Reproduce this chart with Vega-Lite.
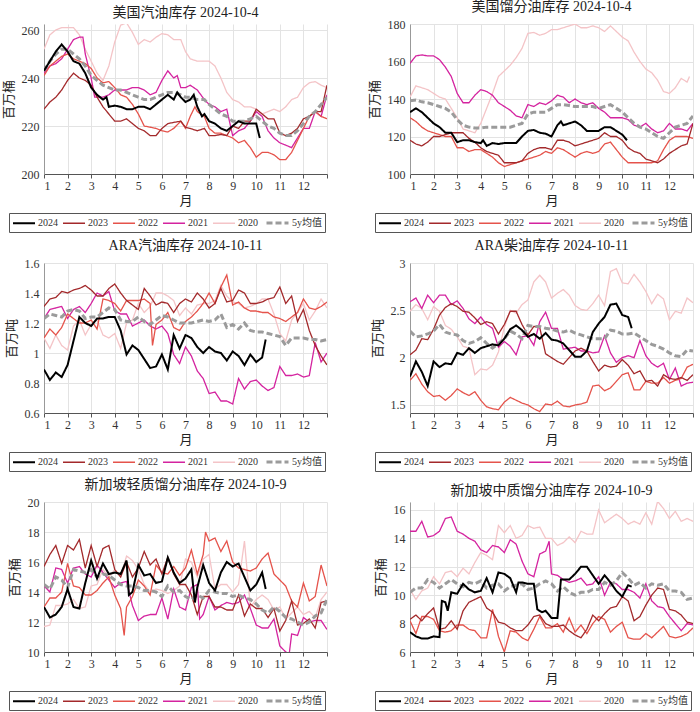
{
"$schema": "https://vega.github.io/schema/vega-lite/v6.json",
"padding": {"left": 2, "top": 0, "right": 4, "bottom": 2},
"columns": 2,
"spacing": {"row": 6, "column": 40},
"resolve": {"scale": {"color": "independent", "strokeDash": "independent", "strokeWidth": "independent"}, "legend": {"color": "independent", "strokeDash": "independent", "strokeWidth": "independent"}},
"datasets": {
"p1": [
{"x":1,"2024":243,"2023":227,"2022":241,"2021":242,"2020":252,"5y均值":243},
{"x":1.25,"2024":247,"2023":230,"2022":245,"2021":245,"2020":258,"5y均值":247},
{"x":1.5,"2024":251,"2023":232,"2022":247,"2021":246,"2020":260,"5y均值":250},
{"x":1.75,"2024":254,"2023":235,"2022":249,"2021":248,"2020":261,"5y均值":252},
{"x":2,"2024":251,"2023":239,"2022":250,"2021":252,"2020":261,"5y均值":252},
{"x":2.25,"2024":247,"2023":242,"2022":248,"2021":256,"2020":261,"5y均值":250},
{"x":2.5,"2024":246,"2023":240,"2022":247,"2021":257,"2020":258,"5y均值":248},
{"x":2.65,"2021":257},
{"x":2.75,"2024":242,"2023":239,"2022":246,"2021":250,"2020":252,"5y均值":245},
{"x":3,"2024":236,"2023":237,"2022":244,"2021":240,"2020":247,"5y均值":241},
{"x":3.15,"2021":232},
{"x":3.25,"2024":233,"2023":232,"2022":240,"2020":242,"5y均值":239},
{"x":3.5,"2024":231,"2023":228,"2022":238,"2021":232,"2020":239,"5y均值":237},
{"x":3.65,"2024":232},
{"x":3.75,"2024":228,"2023":225,"2022":238.5,"2021":233,"2020":245,"5y均值":236},
{"x":4,"2024":228.5,"2023":222,"2022":236,"2021":235,"2020":255,"5y均值":235},
{"x":4.25,"2024":228,"2023":222,"2022":233,"2021":235,"2020":262,"5y均值":235},
{"x":4.5,"2024":227,"2023":223,"2022":232,"2021":235,"2020":263,"5y均值":234},
{"x":4.75,"2024":227,"2023":221,"2022":229,"2021":236,"2020":259,"5y均值":233},
{"x":5,"2024":228,"2023":219,"2022":225,"2021":236,"2020":254,"5y均值":232},
{"x":5.25,"2024":228,"2023":218,"2022":220,"2021":235,"2020":256,"5y均值":231},
{"x":5.5,"2024":227,"2023":216,"2022":219.5,"2021":233,"2020":255,"5y均值":231},
{"x":5.75,"2024":229,"2023":216,"2022":219,"2021":234,"2020":257,"5y均值":232},
{"x":6,"2024":231,"2023":219,"2022":218,"2021":239,"2020":258.5,"5y均值":233},
{"x":6.25,"2024":233,"2023":221,"2022":217.5,"2021":243,"2020":258,"5y均值":234},
{"x":6.5,"2024":231,"2023":221.5,"2022":219,"2021":240,"2020":256,"5y均值":234},
{"x":6.65,"2024":234,"2021":241},
{"x":6.8,"2024":232,"2023":222,"2022":222,"2021":236,"2020":256,"5y均值":233},
{"x":7,"2024":230,"2023":219.5,"2022":219,"2021":236,"2020":251,"5y均值":232},
{"x":7.2,"2024":231,"2023":219,"2022":224,"2021":237,"2020":248,"5y均值":232},
{"x":7.35,"2024":233},
{"x":7.4,"2022":228},
{"x":7.5,"2024":228,"2023":218,"2022":226,"2021":235,"2020":247,"5y均值":231},
{"x":7.7,"2024":224},
{"x":7.8,"2024":225,"2023":219,"2022":224,"2021":231,"2020":247,"5y均值":231},
{"x":8,"2024":222,"2023":216,"2022":219,"2021":229,"2020":247,"5y均值":229},
{"x":8.25,"2024":221,"2023":216,"2022":217,"2021":228,"2020":245,"5y均值":227},
{"x":8.5,"2024":219,"2023":216.5,"2022":217,"2021":226,"2020":240,"5y均值":225},
{"x":8.75,"2024":218,"2023":216,"2022":216,"2021":227,"2020":234,"5y均值":224},
{"x":9,"2024":220,"2023":220,"2022":215,"2021":216,"2020":231,"5y均值":222},
{"x":9.25,"2024":222,"2023":219,"2022":213,"2021":218,"2020":230,"5y均值":222},
{"x":9.5,"2024":221,"2023":222,"2022":214,"2021":219,"2020":228,"5y均值":222},
{"x":9.75,"2024":221,"2023":222,"2022":211,"2021":222,"2020":228,"5y均值":223},
{"x":10,"2024":221,"2023":227,"2022":207,"2021":226,"2020":227,"5y均值":224},
{"x":10.15,"2024":215},
{"x":10.25,"2023":225,"2022":209,"2021":224,"2020":225,"5y均值":222},
{"x":10.5,"2023":223,"2022":209,"2021":218,"2020":226,"5y均值":220},
{"x":10.75,"2023":223,"2022":208,"2021":215,"2020":227,"5y均值":219},
{"x":11,"2023":217,"2022":206,"2021":213,"2020":226,"5y均值":217},
{"x":11.25,"2023":216,"2022":206,"2021":212,"2020":228,"5y均值":216},
{"x":11.5,"2023":217,"2022":209,"2021":211,"2020":231,"5y均值":216},
{"x":11.75,"2023":219,"2022":214,"2021":215,"2020":232,"5y均值":218},
{"x":12,"2023":223,"2022":219,"2021":219,"2020":236,"5y均值":221},
{"x":12.25,"2023":224,"2022":224,"2021":219,"2020":238,"5y均值":224},
{"x":12.5,"2023":226,"2022":226,"2021":226,"2020":238.5,"5y均值":226},
{"x":12.75,"2023":226,"2022":224,"2021":224,"2020":237,"5y均值":229},
{"x":13,"2023":237,"2022":223,"2021":233,"2020":236,"5y均值":232}
],
"p2": [
{"x":1,"2024":133,"2023":118,"2022":130,"2021":159,"2020":141,"5y均值":139},
{"x":1.25,"2024":135,"2023":116,"2022":128,"2021":163,"2020":147,"5y均值":139.5},
{"x":1.5,"2024":133,"2023":115,"2022":125,"2021":163.5,"2020":146,"5y均值":138.5},
{"x":1.75,"2024":130,"2023":117,"2022":123,"2021":163,"2020":145,"5y均值":138},
{"x":2,"2024":127,"2023":120,"2022":122,"2021":163,"2020":143,"5y均值":137},
{"x":2.25,"2024":125,"2023":120,"2022":121,"2021":161,"2020":141,"5y均值":136},
{"x":2.5,"2024":122,"2023":121,"2022":120,"2021":157,"2020":140,"5y均值":135},
{"x":2.75,"2024":122,"2023":122,"2022":120,"2021":152,"2020":135,"5y均值":133},
{"x":3,"2024":117,"2023":122,"2022":114,"2021":143,"2020":130,"5y均值":129},
{"x":3.25,"2024":118,"2023":122,"2022":114,"2021":138,"2020":124,"5y均值":126},
{"x":3.5,"2024":118,"2023":119,"2022":112,"2021":138,"2020":123,"5y均值":125},
{"x":3.75,"2024":117,"2023":117,"2022":113,"2021":142,"2020":122,"5y均值":124.5},
{"x":4,"2024":116.5,"2023":114,"2022":113,"2021":145,"2020":127,"5y均值":124.5},
{"x":4.1,"2024":118},
{"x":4.25,"2024":115,"2023":112,"2022":111,"2021":144,"2020":135,"5y均值":125},
{"x":4.5,"2024":116.5,"2023":111,"2022":109,"2021":142,"2020":143,"5y均值":125},
{"x":4.75,"2024":116,"2023":110,"2022":106,"2021":138,"2020":152,"5y均值":125},
{"x":5,"2024":116.5,"2023":106,"2022":104,"2021":136,"2020":155,"5y均值":125},
{"x":5.25,"2024":116.5,"2023":106,"2022":105,"2021":134,"2020":158,"5y均值":125},
{"x":5.5,"2024":116.5,"2023":106,"2022":106,"2021":131,"2020":162,"5y均值":126},
{"x":5.75,"2024":120,"2023":107,"2022":107,"2021":130,"2020":167,"5y均值":127},
{"x":6,"2024":123,"2023":111,"2022":108,"2021":137,"2020":175,"5y均值":132},
{"x":6.25,"2024":123.5,"2023":113,"2022":109,"2021":136,"2020":175.5,"5y均值":133},
{"x":6.5,"2024":122,"2023":114,"2022":110,"2021":138,"2020":174,"5y均值":133},
{"x":6.75,"2024":121.5,"2023":114,"2022":112,"2021":137,"2020":175,"5y均值":133},
{"x":7,"2024":120,"2023":113,"2022":111,"2021":139,"2020":177,"5y均值":135},
{"x":7.25,"2024":126,"2023":118,"2022":114,"2021":142,"2020":177,"5y均值":137},
{"x":7.4,"2024":128},
{"x":7.5,"2024":126,"2023":118,"2022":113,"2021":141,"2020":178,"5y均值":137},
{"x":7.75,"2024":127,"2023":117,"2022":111,"2021":138,"2020":179,"5y均值":136.5},
{"x":8,"2024":128,"2023":115,"2022":109,"2021":140,"2020":180,"5y均值":136},
{"x":8.25,"2024":126,"2023":116,"2022":111,"2021":138,"2020":178,"5y均值":136},
{"x":8.5,"2024":123,"2023":117,"2022":112,"2021":137,"2020":178,"5y均值":136},
{"x":8.75,"2024":123,"2023":118,"2022":111,"2021":138,"2020":179,"5y均值":136},
{"x":9,"2024":123,"2023":119,"2022":112,"2021":135,"2020":178,"5y均值":135},
{"x":9.25,"2024":125,"2023":122,"2022":116,"2021":133,"2020":176,"5y均值":136},
{"x":9.5,"2024":125,"2023":120,"2022":117,"2021":130,"2020":179,"5y均值":137},
{"x":9.75,"2024":123,"2023":120,"2022":113,"2021":130,"2020":176,"5y均值":135},
{"x":10,"2024":121,"2023":118,"2022":109,"2021":130,"2020":173,"5y均值":133},
{"x":10.2,"2024":118},
{"x":10.25,"2023":114,"2022":106,"2021":129,"2020":171,"5y均值":130},
{"x":10.5,"2023":112,"2022":106,"2021":126,"2020":165,"5y均值":127},
{"x":10.75,"2023":111,"2022":106,"2021":125,"2020":160,"5y均值":125},
{"x":11,"2023":108,"2022":106,"2021":127,"2020":156,"5y均值":124},
{"x":11.25,"2023":107,"2022":106,"2021":124,"2020":154,"5y均值":122},
{"x":11.5,"2023":106,"2022":107,"2021":122,"2020":150,"5y均值":120},
{"x":11.75,"2023":108,"2022":113,"2021":123,"2020":144,"5y均值":119},
{"x":12,"2023":111,"2022":118,"2021":127,"2020":143,"5y均值":122},
{"x":12.25,"2023":113,"2022":120,"2021":124,"2020":146,"5y均值":125},
{"x":12.5,"2023":115,"2022":120,"2021":124,"2020":151,"5y均值":126},
{"x":12.75,"2023":116,"2022":120,"2021":123,"2020":149,"5y均值":127},
{"x":12.85,"2020":152},
{"x":13,"2023":127,"2022":119,"2021":127,"5y均值":131}
],
"p3": [
{"x":1,"2024":0.89,"2023":1.31,"2022":1.10,"2021":1.23,"2020":1.10,"5y均值":1.23},
{"x":1.25,"2024":0.82,"2023":1.36,"2022":1.16,"2021":1.29,"2020":1.03,"5y均值":1.26},
{"x":1.5,"2024":0.87,"2023":1.37,"2022":1.12,"2021":1.30,"2020":1.12,"5y均值":1.25},
{"x":1.75,"2024":0.84,"2023":1.41,"2022":1.17,"2021":1.31,"2020":1.05,"5y均值":1.24},
{"x":2,"2024":0.92,"2023":1.40,"2022":1.26,"2021":1.23,"2020":1.02,"5y均值":1.28},
{"x":2.25,"2024":1.08,"2023":1.42,"2022":1.23,"2021":1.29,"2020":1.18,"5y均值":1.29},
{"x":2.5,"2024":1.24,"2023":1.43,"2022":1.20,"2021":1.31,"2020":1.22,"5y均值":1.28},
{"x":2.75,"2024":1.20,"2023":1.45,"2022":1.20,"2021":1.27,"2020":1.12,"5y均值":1.23},
{"x":3,"2024":1.18,"2023":1.42,"2022":1.22,"2021":1.33,"2020":1.19,"5y均值":1.24},
{"x":3.25,"2024":1.23,"2023":1.38,"2022":1.16,"2021":1.40,"2020":1.22,"5y均值":1.24},
{"x":3.5,"2024":1.23,"2023":1.38,"2022":1.36,"2021":1.38,"2020":1.12,"5y均值":1.27},
{"x":3.75,"2024":1.24,"2023":1.43,"2022":1.35,"2021":1.41,"2020":1.10,"5y均值":1.30},
{"x":4,"2024":1.24,"2023":1.46,"2022":1.33,"2021":1.28,"2020":1.13,"5y均值":1.29},
{"x":4.25,"2024":1.15,"2023":1.40,"2022":1.28,"2021":1.26,"2020":1.03,"5y均值":1.22},
{"x":4.5,"2024":0.99,"2023":1.35,"2022":1.35,"2021":1.26,"2020":1.20,"5y均值":1.21},
{"x":4.75,"2024":1.05,"2023":1.32,"2022":1.35,"2021":1.18,"2020":1.22,"5y均值":1.21},
{"x":5,"2024":1.02,"2023":1.29,"2022":1.35,"2021":1.20,"2020":1.33,"5y均值":1.24},
{"x":5.25,"2024":0.96,"2023":1.43,"2022":1.36,"2021":1.22,"2020":1.27,"5y均值":1.21},
{"x":5.5,"2024":0.90,"2023":1.38,"2022":1.33,"2021":1.18,"2020":1.31,"5y均值":1.19},
{"x":5.6,"2022":1.05},
{"x":5.75,"2024":0.91,"2023":1.32,"2022":1.19,"2021":1.16,"2020":1.40,"5y均值":1.22},
{"x":6,"2024":0.99,"2023":1.34,"2022":1.22,"2021":1.18,"2020":1.40,"5y均值":1.25},
{"x":6.25,"2024":0.89,"2023":1.33,"2022":1.27,"2021":1.13,"2020":1.38,"5y均值":1.24},
{"x":6.5,"2024":1.12,"2023":1.27,"2022":1.17,"2021":0.99,"2020":1.35,"5y均值":1.22},
{"x":6.75,"2024":1.03,"2023":1.33,"2022":1.15,"2021":0.93,"2020":1.25,"5y均值":1.20},
{"x":7,"2024":1.12,"2023":1.36,"2022":1.21,"2021":1.04,"2020":1.30,"5y均值":1.20},
{"x":7.25,"2024":1.10,"2023":1.34,"2022":1.24,"2021":0.98,"2020":1.26,"5y均值":1.20},
{"x":7.5,"2024":1.04,"2023":1.40,"2022":1.28,"2021":0.88,"2020":1.32,"5y均值":1.21},
{"x":7.75,"2024":1.00,"2023":1.36,"2022":1.33,"2021":0.83,"2020":1.33,"5y均值":1.22},
{"x":8,"2024":1.04,"2023":1.30,"2022":1.40,"2021":0.73,"2020":1.33,"5y均值":1.21},
{"x":8.25,"2024":1.01,"2023":1.33,"2022":1.33,"2021":0.74,"2020":1.35,"5y均值":1.22},
{"x":8.5,"2024":1.00,"2023":1.43,"2022":1.44,"2021":0.68,"2020":1.45,"5y均值":1.26},
{"x":8.75,"2024":0.95,"2023":1.34,"2022":1.52,"2021":0.68,"2020":1.38,"5y均值":1.17},
{"x":9,"2024":1.01,"2023":1.35,"2022":1.32,"2021":0.66,"2020":1.34,"5y均值":1.19},
{"x":9.25,"2024":0.98,"2023":1.42,"2022":1.34,"2021":0.83,"2020":1.33,"5y均值":1.16},
{"x":9.5,"2024":0.92,"2023":1.40,"2022":1.30,"2021":0.76,"2020":1.30,"5y均值":1.20},
{"x":9.75,"2024":0.99,"2023":1.33,"2022":1.28,"2021":0.81,"2020":1.31,"5y均值":1.15},
{"x":10,"2024":0.94,"2023":1.33,"2022":1.28,"2021":0.82,"2020":1.33,"5y均值":1.14},
{"x":10.25,"2024":0.97,"2023":1.34,"2022":1.27,"2021":0.78,"2020":1.36,"5y均值":1.14},
{"x":10.4,"2024":1.09},
{"x":10.5,"2023":1.36,"2022":1.27,"2021":0.75,"2020":1.36,"5y均值":1.13},
{"x":10.75,"2023":1.37,"2022":1.24,"2021":0.77,"2020":1.26,"5y均值":1.12},
{"x":11,"2023":1.44,"2022":1.23,"2021":0.91,"2020":1.13,"5y均值":1.11},
{"x":11.25,"2023":1.33,"2022":1.21,"2021":0.85,"2020":1.08,"5y均值":1.05},
{"x":11.5,"2023":1.38,"2022":1.24,"2021":0.85,"2020":1.22,"5y均值":1.10},
{"x":11.75,"2023":1.21,"2022":1.27,"2021":0.86,"2020":1.27,"5y均值":1.10},
{"x":12,"2023":1.29,"2022":1.36,"2021":0.84,"2020":1.33,"5y均值":1.10},
{"x":12.25,"2023":1.15,"2022":1.30,"2021":0.85,"2020":1.22,"5y均值":1.09},
{"x":12.5,"2023":1.05,"2022":1.29,"2021":1.07,"2020":1.28,"5y均值":1.09},
{"x":12.75,"2023":0.98,"2022":1.31,"2021":0.94,"2020":1.36,"5y均值":1.08},
{"x":13,"2023":0.92,"2022":1.34,"2021":1.00,"2020":1.30,"5y均值":1.09}
],
"p4": [
{"x":1,"2024":1.80,"2023":2.03,"2022":1.76,"2021":2.59,"2020":2.49,"5y均值":2.28},
{"x":1.25,"2024":1.96,"2023":2.08,"2022":1.83,"2021":2.63,"2020":2.56,"5y均值":2.22},
{"x":1.5,"2024":1.85,"2023":2.20,"2022":1.72,"2021":2.52,"2020":2.52,"5y均值":2.23},
{"x":1.75,"2024":1.70,"2023":2.19,"2022":1.64,"2021":2.66,"2020":2.40,"5y均值":2.25},
{"x":2,"2024":1.96,"2023":2.30,"2022":1.59,"2021":2.58,"2020":2.54,"5y均值":2.28},
{"x":2.25,"2024":1.90,"2023":2.45,"2022":1.60,"2021":2.66,"2020":2.49,"5y均值":2.35},
{"x":2.5,"2024":1.94,"2023":2.53,"2022":1.55,"2021":2.66,"2020":2.34,"5y均值":2.27},
{"x":2.75,"2024":1.93,"2023":2.57,"2022":1.60,"2021":2.56,"2020":2.30,"5y均值":2.25},
{"x":3,"2024":2.05,"2023":2.54,"2022":1.67,"2021":2.60,"2020":2.22,"5y均值":2.24},
{"x":3.25,"2024":2.03,"2023":2.49,"2022":1.63,"2021":2.52,"2020":2.12,"5y均值":2.18},
{"x":3.5,"2024":2.10,"2023":2.48,"2022":1.60,"2021":2.41,"2020":2.10,"5y均值":2.15},
{"x":3.75,"2024":2.05,"2023":2.42,"2022":1.64,"2021":2.36,"2020":1.82,"5y均值":2.17},
{"x":4,"2024":2.10,"2023":2.35,"2022":1.55,"2021":2.43,"2020":1.88,"5y均值":2.21},
{"x":4.25,"2024":2.12,"2023":2.38,"2022":1.48,"2021":2.35,"2020":1.87,"5y均值":2.15},
{"x":4.5,"2024":2.14,"2023":2.36,"2022":1.46,"2021":2.31,"2020":1.92,"5y均值":2.10},
{"x":4.75,"2024":2.13,"2023":2.25,"2022":1.45,"2021":2.11,"2020":2.06,"5y均值":2.15},
{"x":5,"2024":2.20,"2023":2.35,"2022":1.53,"2021":2.17,"2020":2.32,"5y均值":2.20},
{"x":5.25,"2024":2.30,"2023":2.49,"2022":1.58,"2021":2.12,"2020":2.50,"5y均值":2.28},
{"x":5.5,"2024":2.34,"2023":2.49,"2022":1.55,"2021":2.03,"2020":2.47,"5y均值":2.25},
{"x":5.75,"2024":2.29,"2023":2.35,"2022":1.52,"2021":2.22,"2020":2.56,"5y均值":2.20},
{"x":6,"2024":2.22,"2023":2.24,"2022":1.50,"2021":2.23,"2020":2.61,"5y均值":2.34},
{"x":6.25,"2024":2.25,"2023":2.33,"2022":1.46,"2021":2.13,"2020":2.80,"5y均值":2.33},
{"x":6.5,"2024":2.20,"2023":2.32,"2022":1.43,"2021":2.38,"2020":2.87,"5y均值":2.33},
{"x":6.75,"2024":2.26,"2023":2.04,"2022":1.51,"2021":2.48,"2020":2.80,"5y均值":2.31},
{"x":7,"2024":2.19,"2023":2.00,"2022":1.50,"2021":2.31,"2020":2.63,"5y均值":2.30},
{"x":7.25,"2024":2.18,"2023":1.96,"2022":1.54,"2021":2.31,"2020":2.68,"5y均值":2.28},
{"x":7.5,"2024":2.15,"2023":1.93,"2022":1.49,"2021":2.09,"2020":2.72,"5y均值":2.27},
{"x":7.75,"2024":2.08,"2023":2.00,"2022":1.48,"2021":2.10,"2020":2.66,"5y均值":2.29},
{"x":8,"2024":2.01,"2023":2.07,"2022":1.50,"2021":2.11,"2020":2.55,"5y均值":2.26},
{"x":8.25,"2024":2.01,"2023":2.10,"2022":1.51,"2021":2.07,"2020":2.51,"5y均值":2.24},
{"x":8.5,"2024":2.07,"2023":2.07,"2022":1.53,"2021":2.07,"2020":2.50,"5y均值":2.22},
{"x":8.75,"2024":2.27,"2023":1.96,"2022":1.70,"2021":2.05,"2020":2.57,"5y均值":2.20},
{"x":9,"2024":2.36,"2023":1.86,"2022":1.71,"2021":2.06,"2020":2.66,"5y均值":2.20},
{"x":9.25,"2024":2.43,"2023":1.92,"2022":1.65,"2021":2.23,"2020":2.55,"5y均值":2.20},
{"x":9.5,"2024":2.56,"2023":1.90,"2022":1.68,"2021":2.05,"2020":2.91,"5y均值":2.29},
{"x":9.75,"2024":2.57,"2023":1.91,"2022":1.75,"2021":1.95,"2020":2.94,"5y均值":2.28},
{"x":10,"2024":2.45,"2023":1.98,"2022":1.82,"2021":2.00,"2020":2.79,"5y均值":2.25},
{"x":10.25,"2024":2.43,"2023":1.92,"2022":1.84,"2021":2.02,"2020":2.78,"5y均值":2.25},
{"x":10.4,"2024":2.31},
{"x":10.5,"2023":1.83,"2022":1.66,"2021":2.00,"2020":2.88,"5y均值":2.26},
{"x":10.75,"2023":1.86,"2022":1.66,"2021":2.18,"2020":2.80,"5y均值":2.22},
{"x":11,"2023":1.75,"2022":1.75,"2021":2.02,"2020":2.70,"5y均值":2.18},
{"x":11.25,"2023":1.76,"2022":1.73,"2021":1.94,"2020":2.57,"5y均值":2.14},
{"x":11.5,"2023":1.70,"2022":1.73,"2021":1.90,"2020":2.67,"5y均值":2.12},
{"x":11.75,"2023":1.82,"2022":1.79,"2021":1.94,"2020":2.62,"5y均值":2.09},
{"x":12,"2023":1.78,"2022":1.73,"2021":1.77,"2020":2.40,"5y均值":2.05},
{"x":12.25,"2023":1.77,"2022":1.76,"2021":1.89,"2020":2.49,"5y均值":2.02},
{"x":12.5,"2023":1.79,"2022":1.78,"2021":1.70,"2020":2.47,"5y均值":2.01},
{"x":12.75,"2023":1.76,"2022":1.90,"2021":1.73,"2020":2.63,"5y均值":2.08},
{"x":13,"2023":1.82,"2022":1.93,"2021":1.74,"2020":2.58,"5y均值":2.07}
],
"p5": [
{"x":1,"2024":13.0,"2023":15.7,"2022":13.0,"2021":14.4,"2020":11.7,"5y均值":14.5},
{"x":1.25,"2024":12.3,"2023":16.5,"2022":13.6,"2021":14.0,"2020":11.8,"5y均值":14.2},
{"x":1.5,"2024":12.5,"2023":17.1,"2022":13.6,"2021":15.6,"2020":13.1,"5y均值":15.0},
{"x":1.75,"2024":13.0,"2023":15.9,"2022":14.0,"2021":15.5,"2020":13.1,"5y均值":14.8},
{"x":2,"2024":14.2,"2023":17.1,"2022":15.9,"2021":14.6,"2020":13.2,"5y均值":14.3},
{"x":2.25,"2024":13.0,"2023":16.8,"2022":14.4,"2021":15.6,"2020":13.5,"5y均值":15.5},
{"x":2.5,"2024":12.9,"2023":17.5,"2022":14.3,"2021":15.7,"2020":12.9,"5y均值":15.4},
{"x":2.75,"2024":14.6,"2023":15.6,"2022":13.8,"2021":15.2,"2020":13.0,"5y均值":15.3},
{"x":3,"2024":16.1,"2023":17.1,"2022":13.8,"2021":15.0,"2020":14.4,"5y均值":15.5},
{"x":3.25,"2024":14.9,"2023":15.7,"2022":14.1,"2021":15.8,"2020":14.5,"5y均值":15.0},
{"x":3.5,"2024":15.9,"2023":16.9,"2022":14.6,"2021":15.3,"2020":15.5,"5y均值":15.2},
{"x":3.75,"2024":15.2,"2023":17.1,"2022":15.0,"2021":14.8,"2020":15.0,"5y均值":15.1},
{"x":4,"2024":15.3,"2023":15.5,"2022":13.8,"2021":14.3,"2020":15.5,"5y均值":14.8},
{"x":4.25,"2024":15.2,"2023":15.0,"2022":12.9,"2021":14.6,"2020":15.0,"5y均值":14.5},
{"x":4.4,"2022":11.1},
{"x":4.5,"2024":16.1,"2023":16.0,"2022":13.0,"2021":14.7,"2020":16.4,"5y均值":14.4},
{"x":4.6,"2024":13.8},
{"x":4.75,"2024":14.0,"2023":15.0,"2022":13.7,"2021":13.1,"2020":16.1,"5y均值":14.4},
{"x":5,"2024":15.8,"2023":15.6,"2022":14.8,"2021":12.1,"2020":15.5,"5y均值":14.3},
{"x":5.25,"2024":15.1,"2023":16.7,"2022":14.4,"2021":12.4,"2020":14.5,"5y均值":14.1},
{"x":5.5,"2024":15.2,"2023":15.8,"2022":13.8,"2021":12.5,"2020":14.0,"5y均值":14.1},
{"x":5.75,"2024":14.6,"2023":16.2,"2022":15.8,"2021":12.5,"2020":14.2,"5y均值":14.0},
{"x":6,"2024":14.7,"2023":15.2,"2022":15.3,"2021":13.6,"2020":14.1,"5y均值":13.7},
{"x":6.25,"2024":16.3,"2023":16.3,"2022":15.2,"2021":12.2,"2020":13.9,"5y均值":14.4},
{"x":6.5,"2024":15.3,"2023":15.2,"2022":15.7,"2021":14.2,"2020":14.1,"5y均值":14.0},
{"x":6.75,"2024":14.6,"2023":14.5,"2022":15.1,"2021":13.0,"2020":14.4,"5y均值":14.1},
{"x":7,"2024":14.9,"2023":14.5,"2022":15.6,"2021":12.8,"2020":16.2,"5y均值":13.7},
{"x":7.25,"2024":15.5,"2023":13.8,"2022":16.8,"2021":14.3,"2020":16.0,"5y均值":13.5},
{"x":7.4,"2024":13.3},
{"x":7.5,"2024":14.3,"2023":12.5,"2022":15.2,"2021":14.5,"2020":15.0,"5y均值":13.8},
{"x":7.6,"2021":12.2},
{"x":7.75,"2024":15.8,"2023":13.7,"2022":16.5,"2021":12.5,"2020":16.2,"5y均值":13.6},
{"x":7.85,"2022":18.0},
{"x":8,"2024":14.6,"2023":13.7,"2022":17.4,"2021":13.7,"2020":16.5,"5y均值":14.1},
{"x":8.25,"2024":14.1,"2023":13.0,"2022":17.6,"2021":12.8,"2020":14.2,"5y均值":14.0},
{"x":8.5,"2024":15.3,"2023":13.0,"2022":16.7,"2021":13.1,"2020":14.5,"5y均值":13.9},
{"x":8.75,"2024":16.0,"2023":12.8,"2022":17.4,"2021":13.3,"2020":14.5,"5y均值":13.9},
{"x":9,"2024":15.7,"2023":12.8,"2022":16.0,"2021":13.2,"2020":14.0,"5y均值":13.7},
{"x":9.25,"2024":15.9,"2023":13.8,"2022":15.6,"2021":13.3,"2020":14.5,"5y均值":13.8},
{"x":9.5,"2024":15.0,"2023":12.4,"2022":15.5,"2021":13.8,"2020":17.4,"5y均值":13.6},
{"x":9.75,"2024":14.1,"2023":13.2,"2022":15.4,"2021":12.9,"2020":13.0,"5y均值":13.5},
{"x":10,"2024":14.5,"2023":12.9,"2022":15.6,"2021":11.8,"2020":13.5,"5y均值":13.2},
{"x":10.25,"2024":15.3,"2023":12.9,"2022":16.2,"2021":11.6,"2020":13.8,"5y均值":12.8},
{"x":10.4,"2024":14.2},
{"x":10.5,"2023":12.3,"2022":16.6,"2021":11.6,"2020":13.5,"5y均值":12.6},
{"x":10.75,"2023":12.9,"2022":15.2,"2021":12.2,"2020":12.8,"5y均值":13.0},
{"x":11,"2023":11.4,"2022":14.8,"2021":10.4,"2020":13.0,"5y均值":12.7},
{"x":11.25,"2023":12.1,"2022":14.4,"2021":10.0,"2020":12.2,"5y均值":12.3},
{"x":11.4,"2021":9.9},
{"x":11.5,"2023":13.4,"2022":13.4,"2021":11.2,"2020":12.6,"5y均值":12.2},
{"x":11.75,"2023":11.8,"2022":13.0,"2021":11.1,"2020":13.0,"5y均值":12.0},
{"x":12,"2023":11.9,"2022":14.6,"2021":12.3,"2020":12.5,"5y均值":11.8},
{"x":12.25,"2023":12.2,"2022":13.4,"2021":12.0,"2020":12.7,"5y均值":12.0},
{"x":12.5,"2023":11.6,"2022":13.7,"2021":12.1,"2020":12.3,"5y均值":12.4},
{"x":12.75,"2023":13.3,"2022":15.8,"2021":12.1,"2020":13.5,"5y均值":12.6},
{"x":13,"2023":13.4,"2022":14.4,"2021":11.5,"2020":14.0,"5y均值":13.5}
],
"p6": [
{"x":1,"2024":7.4,"2023":8.3,"2022":8.2,"2021":14.5,"2020":10.4,"5y均值":10.2},
{"x":1.25,"2024":7.1,"2023":8.6,"2022":7.3,"2021":14.5,"2020":9.7,"5y均值":10.5},
{"x":1.5,"2024":6.95,"2023":8.2,"2022":8.5,"2021":15.2,"2020":10.3,"5y均值":10.5},
{"x":1.75,"2024":6.95,"2023":8.7,"2022":8.5,"2021":14.1,"2020":10.5,"5y均值":11.1},
{"x":2,"2024":7.1,"2023":9.1,"2022":8.3,"2021":14.2,"2020":11.3,"5y均值":10.9},
{"x":2.25,"2024":7.05,"2023":7.6,"2022":7.5,"2021":14.5,"2020":10.8,"5y均值":10.5},
{"x":2.35,"2024":9.6},
{"x":2.5,"2024":9.5,"2023":7.7,"2022":7.4,"2021":15.4,"2020":11.6,"5y均值":10.8},
{"x":2.6,"2024":8.9},
{"x":2.75,"2024":10.2,"2023":8.2,"2022":7.5,"2021":15.5,"2020":11.7,"5y均值":11.1},
{"x":3,"2024":10.1,"2023":7.6,"2022":7.9,"2021":14.5,"2020":11.3,"5y均值":10.8},
{"x":3.25,"2024":10.8,"2023":8.9,"2022":7.9,"2021":14.3,"2020":11.9,"5y均值":10.6},
{"x":3.5,"2024":10.4,"2023":9.5,"2022":7.6,"2021":14.0,"2020":11.5,"5y均值":10.9},
{"x":3.75,"2024":10.2,"2023":9.7,"2022":7.5,"2021":13.8,"2020":12.3,"5y均值":10.8},
{"x":4,"2024":10.3,"2023":9.9,"2022":7.0,"2021":13.2,"2020":13.0,"5y均值":11.0},
{"x":4.25,"2024":11.2,"2023":9.1,"2022":7.0,"2021":13.0,"2020":12.8,"5y均值":10.5},
{"x":4.5,"2024":10.2,"2023":8.8,"2022":9.0,"2021":13.5,"2020":12.5,"5y均值":10.7},
{"x":4.75,"2024":11.6,"2023":8.1,"2022":7.1,"2021":13.4,"2020":14.9,"5y均值":10.8},
{"x":5,"2024":11.5,"2023":8.0,"2022":6.0,"2021":13.0,"2020":14.4,"5y均值":10.3},
{"x":5.25,"2024":11.2,"2023":7.7,"2022":7.5,"2021":13.9,"2020":14.9,"5y均值":10.6},
{"x":5.5,"2024":10.2,"2023":7.5,"2022":7.4,"2021":13.6,"2020":14.0,"5y均值":10.7},
{"x":5.6,"2024":10.9},
{"x":5.75,"2024":10.9,"2023":7.5,"2022":7.0,"2021":12.4,"2020":14.2,"5y均值":10.8},
{"x":6,"2024":10.8,"2023":7.9,"2022":6.8,"2021":11.5,"2020":14.9,"5y均值":10.4},
{"x":6.25,"2024":10.8,"2023":8.5,"2022":7.6,"2021":11.3,"2020":14.7,"5y均值":10.5},
{"x":6.4,"2024":9.0},
{"x":6.5,"2023":8.6,"2022":8.5,"2021":12.9,"2020":14.8,"5y均值":10.8},
{"x":6.6,"2024":8.8},
{"x":6.75,"2024":8.9,"2023":8.0,"2022":7.7,"2021":13.1,"2020":14.0,"5y均值":11.0},
{"x":6.9,"2021":13.8},
{"x":7,"2024":8.4,"2023":7.8,"2022":7.7,"2021":11.5,"2020":14.0,"5y均值":10.8},
{"x":7.25,"2024":8.4,"2023":7.8,"2022":8.0,"2021":11.4,"2020":13.5,"5y均值":10.3},
{"x":7.4,"2024":11.1},
{"x":7.5,"2024":11.1,"2023":7.9,"2022":7.4,"2021":11.1,"2020":13.7,"5y均值":10.6},
{"x":7.75,"2024":11.1,"2023":7.5,"2022":8.4,"2021":10.9,"2020":14.1,"5y均值":10.2},
{"x":8,"2024":11.5,"2023":7.2,"2022":7.4,"2021":11.0,"2020":13.7,"5y均值":10.0},
{"x":8.25,"2024":12.0,"2023":7.0,"2022":7.9,"2021":11.2,"2020":14.5,"5y均值":10.2},
{"x":8.5,"2024":12.0,"2023":7.6,"2022":7.3,"2021":10.7,"2020":14.3,"5y均值":10.2},
{"x":8.75,"2024":11.4,"2023":8.6,"2022":8.0,"2021":10.8,"2020":14.3,"5y均值":10.4},
{"x":9,"2024":10.8,"2023":8.2,"2022":8.5,"2021":11.3,"2020":16.0,"5y均值":10.4},
{"x":9.25,"2024":11.4,"2023":8.7,"2022":8.3,"2021":10.0,"2020":15.1,"5y均值":10.9},
{"x":9.5,"2024":10.9,"2023":9.1,"2022":7.4,"2021":10.9,"2020":15.4,"5y均值":10.7},
{"x":9.75,"2024":10.3,"2023":9.2,"2022":7.8,"2021":10.8,"2020":15.7,"5y均值":11.0},
{"x":10,"2024":9.9,"2023":9.9,"2022":8.1,"2021":10.4,"2020":15.4,"5y均值":11.6},
{"x":10.25,"2024":10.7,"2023":9.6,"2022":7.0,"2021":10.4,"2020":15.0,"5y均值":11.2},
{"x":10.4,"2024":10.6},
{"x":10.5,"2023":8.2,"2022":6.9,"2021":10.2,"2020":15.2,"5y均值":10.7},
{"x":10.75,"2023":8.5,"2022":6.9,"2021":9.8,"2020":15.0,"5y均值":10.9},
{"x":11,"2023":9.3,"2022":7.3,"2021":10.8,"2020":15.8,"5y均值":10.5},
{"x":11.25,"2023":10.0,"2022":7.0,"2021":9.6,"2020":15.0,"5y均值":10.8},
{"x":11.5,"2023":10.5,"2022":7.4,"2021":9.2,"2020":16.6,"5y均值":10.7},
{"x":11.75,"2023":10.4,"2022":7.8,"2021":9.1,"2020":16.1,"5y均值":10.8},
{"x":12,"2023":9.0,"2022":7.1,"2021":8.5,"2020":15.4,"5y均值":10.3},
{"x":12.25,"2023":8.9,"2022":7.0,"2021":8.0,"2020":15.9,"5y均值":10.3},
{"x":12.5,"2023":8.6,"2022":7.1,"2021":7.5,"2020":15.2,"5y均值":10.2},
{"x":12.75,"2023":8.1,"2022":7.3,"2021":8.0,"2020":15.4,"5y均值":9.7},
{"x":13,"2023":8.0,"2022":7.7,"2021":7.9,"2020":15.2,"5y均值":9.8}
]
},
"concat": [
{"width":283,"height":150,"title":"美国汽油库存 2024-10-4","data":{"name":"p1"},
 "transform":[{"fold":["2020","2021","2022","2023","5y均值","2024"],"as":["s","v"]},{"filter":"isValid(datum.v)"}],
 "mark":{"type":"line","clip":true},
 "encoding":{
  "x":{"field":"x","type":"quantitative","scale":{"domain":[1,13],"nice":false,"zero":false},"axis":{"values":[1,2,3,4,5,6,7,8,9,10,11,12,13],"labelExpr":"datum.value==13?'':datum.label","title":"月"}},
  "y":{"field":"v","type":"quantitative","scale":{"domain":[200,262.5],"nice":false,"zero":false},"axis":{"values":[200,220,240,260],"format":"~f","title":"百万桶"}},
  "color":{"field":"s","type":"nominal","scale":{"domain":["2024","2023","2022","2021","2020","5y均值"],"range":["#000000","#a3292b","#e5534b","#d4239f","#f4c4c7","#9b9b9b"]},"legend":{"title":null}},
  "strokeDash":{"field":"s","type":"nominal","scale":{"domain":["2024","2023","2022","2021","2020","5y均值"],"range":[[1,0],[1,0],[1,0],[1,0],[1,0],[6,3]]},"legend":{"title":null}},
  "strokeWidth":{"field":"s","type":"nominal","scale":{"type":"ordinal","domain":["2024","2023","2022","2021","2020","5y均值"],"range":[2,1.3,1.3,1.3,1.3,3]},"legend":{"title":null}}
 }},
{"width":283,"height":150,"title":"美国馏分油库存 2024-10-4","data":{"name":"p2"},
 "transform":[{"fold":["2020","2021","2022","2023","5y均值","2024"],"as":["s","v"]},{"filter":"isValid(datum.v)"}],
 "mark":{"type":"line","clip":true},
 "encoding":{
  "x":{"field":"x","type":"quantitative","scale":{"domain":[1,13],"nice":false,"zero":false},"axis":{"values":[1,2,3,4,5,6,7,8,9,10,11,12,13],"labelExpr":"datum.value==13?'':datum.label","title":"月"}},
  "y":{"field":"v","type":"quantitative","scale":{"domain":[100,180],"nice":false,"zero":false},"axis":{"values":[100,120,140,160,180],"format":"~f","title":"百万桶"}},
  "color":{"field":"s","type":"nominal","scale":{"domain":["2024","2023","2022","2021","2020","5y均值"],"range":["#000000","#a3292b","#e5534b","#d4239f","#f4c4c7","#9b9b9b"]},"legend":{"title":null}},
  "strokeDash":{"field":"s","type":"nominal","scale":{"domain":["2024","2023","2022","2021","2020","5y均值"],"range":[[1,0],[1,0],[1,0],[1,0],[1,0],[6,3]]},"legend":{"title":null}},
  "strokeWidth":{"field":"s","type":"nominal","scale":{"type":"ordinal","domain":["2024","2023","2022","2021","2020","5y均值"],"range":[2,1.3,1.3,1.3,1.3,3]},"legend":{"title":null}}
 }},
{"width":283,"height":150,"title":"ARA汽油库存 2024-10-11","data":{"name":"p3"},
 "transform":[{"fold":["2020","2021","2022","2023","5y均值","2024"],"as":["s","v"]},{"filter":"isValid(datum.v)"}],
 "mark":{"type":"line","clip":true},
 "encoding":{
  "x":{"field":"x","type":"quantitative","scale":{"domain":[1,13],"nice":false,"zero":false},"axis":{"values":[1,2,3,4,5,6,7,8,9,10,11,12,13],"labelExpr":"datum.value==13?'':datum.label","title":"月"}},
  "y":{"field":"v","type":"quantitative","scale":{"domain":[0.6,1.6],"nice":false,"zero":false},"axis":{"values":[0.6,0.8,1,1.2,1.4,1.6],"format":"~f","title":"百万吨"}},
  "color":{"field":"s","type":"nominal","scale":{"domain":["2024","2023","2022","2021","2020","5y均值"],"range":["#000000","#a3292b","#e5534b","#d4239f","#f4c4c7","#9b9b9b"]},"legend":{"title":null}},
  "strokeDash":{"field":"s","type":"nominal","scale":{"domain":["2024","2023","2022","2021","2020","5y均值"],"range":[[1,0],[1,0],[1,0],[1,0],[1,0],[6,3]]},"legend":{"title":null}},
  "strokeWidth":{"field":"s","type":"nominal","scale":{"type":"ordinal","domain":["2024","2023","2022","2021","2020","5y均值"],"range":[2,1.3,1.3,1.3,1.3,3]},"legend":{"title":null}}
 }},
{"width":283,"height":150,"title":"ARA柴油库存 2024-10-11","data":{"name":"p4"},
 "transform":[{"fold":["2020","2021","2022","2023","5y均值","2024"],"as":["s","v"]},{"filter":"isValid(datum.v)"}],
 "mark":{"type":"line","clip":true},
 "encoding":{
  "x":{"field":"x","type":"quantitative","scale":{"domain":[1,13],"nice":false,"zero":false},"axis":{"values":[1,2,3,4,5,6,7,8,9,10,11,12,13],"labelExpr":"datum.value==13?'':datum.label","title":"月"}},
  "y":{"field":"v","type":"quantitative","scale":{"domain":[1.415,3],"nice":false,"zero":false},"axis":{"values":[1.5,2,2.5,3],"format":"~f","title":"百万吨"}},
  "color":{"field":"s","type":"nominal","scale":{"domain":["2024","2023","2022","2021","2020","5y均值"],"range":["#000000","#a3292b","#e5534b","#d4239f","#f4c4c7","#9b9b9b"]},"legend":{"title":null}},
  "strokeDash":{"field":"s","type":"nominal","scale":{"domain":["2024","2023","2022","2021","2020","5y均值"],"range":[[1,0],[1,0],[1,0],[1,0],[1,0],[6,3]]},"legend":{"title":null}},
  "strokeWidth":{"field":"s","type":"nominal","scale":{"type":"ordinal","domain":["2024","2023","2022","2021","2020","5y均值"],"range":[2,1.3,1.3,1.3,1.3,3]},"legend":{"title":null}}
 }},
{"width":283,"height":150,"title":"新加坡轻质馏分油库存 2024-10-9","data":{"name":"p5"},
 "transform":[{"fold":["2020","2021","2022","2023","5y均值","2024"],"as":["s","v"]},{"filter":"isValid(datum.v)"}],
 "mark":{"type":"line","clip":true},
 "encoding":{
  "x":{"field":"x","type":"quantitative","scale":{"domain":[1,13],"nice":false,"zero":false},"axis":{"values":[1,2,3,4,5,6,7,8,9,10,11,12,13],"labelExpr":"datum.value==13?'':datum.label","title":"月"}},
  "y":{"field":"v","type":"quantitative","scale":{"domain":[10,20],"nice":false,"zero":false},"axis":{"values":[10,12,14,16,18,20],"format":"~f","title":"百万桶"}},
  "color":{"field":"s","type":"nominal","scale":{"domain":["2024","2023","2022","2021","2020","5y均值"],"range":["#000000","#a3292b","#e5534b","#d4239f","#f4c4c7","#9b9b9b"]},"legend":{"title":null}},
  "strokeDash":{"field":"s","type":"nominal","scale":{"domain":["2024","2023","2022","2021","2020","5y均值"],"range":[[1,0],[1,0],[1,0],[1,0],[1,0],[6,3]]},"legend":{"title":null}},
  "strokeWidth":{"field":"s","type":"nominal","scale":{"type":"ordinal","domain":["2024","2023","2022","2021","2020","5y均值"],"range":[2,1.3,1.3,1.3,1.3,3]},"legend":{"title":null}}
 }},
{"width":283,"height":150,"title":"新加坡中质馏分油库存 2024-10-9","data":{"name":"p6"},
 "transform":[{"fold":["2020","2021","2022","2023","5y均值","2024"],"as":["s","v"]},{"filter":"isValid(datum.v)"}],
 "mark":{"type":"line","clip":true},
 "encoding":{
  "x":{"field":"x","type":"quantitative","scale":{"domain":[1,13],"nice":false,"zero":false},"axis":{"values":[1,2,3,4,5,6,7,8,9,10,11,12,13],"labelExpr":"datum.value==13?'':datum.label","title":"月"}},
  "y":{"field":"v","type":"quantitative","scale":{"domain":[6,16.56],"nice":false,"zero":false},"axis":{"values":[6,8,10,12,14,16],"format":"~f","title":"百万桶"}},
  "color":{"field":"s","type":"nominal","scale":{"domain":["2024","2023","2022","2021","2020","5y均值"],"range":["#000000","#a3292b","#e5534b","#d4239f","#f4c4c7","#9b9b9b"]},"legend":{"title":null}},
  "strokeDash":{"field":"s","type":"nominal","scale":{"domain":["2024","2023","2022","2021","2020","5y均值"],"range":[[1,0],[1,0],[1,0],[1,0],[1,0],[6,3]]},"legend":{"title":null}},
  "strokeWidth":{"field":"s","type":"nominal","scale":{"type":"ordinal","domain":["2024","2023","2022","2021","2020","5y均值"],"range":[2,1.3,1.3,1.3,1.3,3]},"legend":{"title":null}}
 }}
],
"config": {
 "font": "Liberation Serif, Noto Sans CJK SC",
 "view": {"stroke": null},
 "title": {"fontSize": 14, "fontWeight": "normal", "color": "#222", "offset": 0, "font": "Liberation Serif, Noto Sans CJK SC"},
 "axis": {"labelFontSize": 12, "labelColor": "#333", "titleFontSize": 13, "titleFontWeight": "normal", "titleColor": "#222", "gridColor": "#e3e3e3", "domainColor": "#555", "tickColor": "#555", "labelFont": "Liberation Serif, Noto Sans CJK SC", "titleFont": "Liberation Serif, Noto Sans CJK SC"},
 "axisY": {"ticks": false, "labelPadding": 5, "titlePadding": 6, "domainColor": "#999"},
 "axisX": {"tickSize": 4, "labelPadding": 2, "titlePadding": 3},
 "legend": {"orient": "none", "legendX": -35, "legendY": 189, "direction": "horizontal", "strokeColor": "#555", "padding": 3, "symbolType": "M-1,0H3", "symbolSize": 121, "labelFontSize": 10, "labelFont": "Liberation Serif, Noto Sans CJK SC", "columnPadding": 2, "labelOffset": 13, "labelColor": "#333"}
}
}
